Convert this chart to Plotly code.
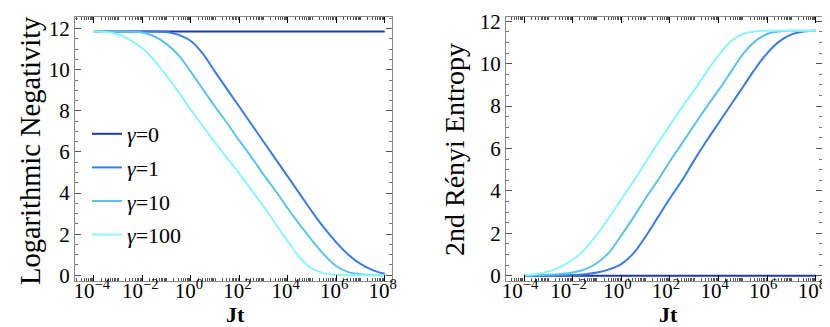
import plotly.graph_objects as go

# ---------------- data ----------------
gamma_labels = ["<i>γ</i>=0", "<i>γ</i>=1", "<i>γ</i>=10", "<i>γ</i>=100"]
colors = ["#1c3ba2", "#3b7ddb", "#5bc3e8", "#8ef4fb"]

# Jt sample points, half a decade apart (1e-4 ... 1e8)
jt = [1e-4, 3.16e-4, 1e-3, 3.16e-3, 1e-2, 3.16e-2, 1e-1, 3.16e-1, 1e0, 3.16e0,
      1e1, 3.16e1, 1e2, 3.16e2, 1e3, 3.16e3, 1e4, 3.16e4, 1e5, 3.16e5,
      1e6, 3.16e6, 1e7, 3.16e7, 1e8]

# Left panel: Logarithmic Negativity
ln_g0 = [11.87] * 25
ln_g1 = [11.87, 11.87, 11.87, 11.87, 11.87, 11.87, 11.84, 11.7, 11.4, 10.78,
         9.9, 9.05, 8.2, 7.35, 6.5, 5.65, 4.8, 3.95, 3.1, 2.3,
         1.6, 1.0, 0.55, 0.25, 0.07]
ln_g10 = [11.87, 11.87, 11.86, 11.85, 11.82, 11.62, 11.25, 10.7, 9.9, 9.05,
          8.2, 7.4, 6.55, 5.75, 4.9, 4.1, 3.25, 2.45, 1.7, 1.0,
          0.45, 0.15, 0.05, 0.01, 0.0]
ln_g100 = [11.87, 11.84, 11.72, 11.45, 11.05, 10.45, 9.7, 8.9, 8.05, 7.25,
           6.45, 5.7, 4.95, 4.15, 3.35, 2.5, 1.65, 0.85, 0.32, 0.09,
           0.02, 0.0, 0.0, 0.0, 0.0]

# Right panel: 2nd Renyi Entropy
re_g0 = [0.0] * 25
re_g1 = [0.0, 0.0, 0.01, 0.02, 0.03, 0.07, 0.15, 0.3, 0.55, 1.05,
         1.85, 2.75, 3.65, 4.5, 5.45, 6.35, 7.2, 8.05, 8.9, 9.75,
         10.5, 11.05, 11.38, 11.52, 11.55]
re_g10 = [0.01, 0.02, 0.04, 0.08, 0.15, 0.3, 0.6, 1.1, 1.9, 2.75,
          3.65, 4.5, 5.4, 6.25, 7.1, 7.95, 8.75, 9.6, 10.45, 11.05,
          11.4, 11.52, 11.55, 11.55, 11.55]
re_g100 = [0.02, 0.08, 0.2, 0.42, 0.75, 1.25, 1.95, 2.75, 3.6, 4.45,
           5.35, 6.25, 7.1, 7.95, 8.75, 9.6, 10.4, 11.05, 11.4, 11.52,
           11.55, 11.55, 11.55, 11.55, 11.55]

x_tickvals = [1e-4, 1e-2, 1e0, 1e2, 1e4, 1e6, 1e8]
x_ticktext = ["10<sup>−4</sup>", "10<sup>−2</sup>", "10<sup>0</sup>", "10<sup>2</sup>",
              "10<sup>4</sup>", "10<sup>6</sup>", "10<sup>8</sup>"]
y_tickvals = [0, 2, 4, 6, 8, 10, 12]

left_title = "Logarithmic Negativity"
right_title = "2nd Rényi Entropy"
x_title = "Jt"

# ---------------- figure ----------------
FONT = "Liberation Serif"
fig = go.Figure()

left_series = [ln_g0, ln_g1, ln_g10, ln_g100]
right_series = [re_g0, re_g1, re_g10, re_g100]

for i, ys in enumerate(left_series):
    fig.add_trace(go.Scatter(x=jt, y=ys, mode="lines", name=gamma_labels[i],
                             line=dict(color=colors[i], width=2, shape="spline", smoothing=1.0),
                             xaxis="x", yaxis="y", legendgroup=str(i), showlegend=True))
for i, ys in enumerate(right_series):
    fig.add_trace(go.Scatter(x=jt, y=ys, mode="lines", name=gamma_labels[i],
                             line=dict(color=colors[i], width=2, shape="spline", smoothing=1.0),
                             xaxis="x2", yaxis="y2", legendgroup=str(i), showlegend=False))

W, H = 830, 327
frame = "#8a8a8a"
tickfont = dict(family=FONT, size=21, color="black")

def xaxis(domain, anchor, rng, shift):
    return dict(domain=domain, anchor=anchor, type="log", range=rng,
                tickvals=x_tickvals, ticktext=x_ticktext, tickfont=tickfont,
                ticks="inside", ticklen=6, tickcolor="black", tickwidth=1,
                ticklabelstandoff=-9, ticklabelshift=shift,
                minor=dict(ticks="inside", ticklen=3, tickcolor="#555", dtick="D1", showgrid=False),
                showline=True, linecolor=frame, linewidth=1, mirror="allticks",
                showgrid=False, zeroline=False, automargin=False)

def yaxis(domain, anchor, rng):
    return dict(domain=domain, anchor=anchor, range=rng,
                tickvals=y_tickvals, tickfont=tickfont,
                ticks="inside", ticklen=6, tickcolor="#555", tickwidth=1,
                minor=dict(ticks="inside", ticklen=3, tickcolor="#777", dtick=0.5, showgrid=False),
                showline=True, linecolor=frame, linewidth=1, mirror="allticks",
                showgrid=False, zeroline=False, automargin=False)

ydom = [(H - 273) / H, (H - 9) / H]
fig.update_layout(
    width=W, height=H,
    margin=dict(l=0, r=0, t=0, b=0),
    font=dict(family=FONT, color="black"),
    paper_bgcolor="white", plot_bgcolor="rgba(0,0,0,0)",
    xaxis=xaxis([67 / W, 384 / W], "y", [-4.78, 8.3], -2),
    yaxis=yaxis(ydom, "x", [-0.28, 12.57]),
    xaxis2=xaxis([498 / W, 814 / W], "y2", [-4.74, 8.25], -4),
    yaxis2=yaxis(ydom, "x2", [-0.25, 12.2]),
    showlegend=True,
    legend=dict(x=79 / W, y=1 - 105 / H, xanchor="left", yanchor="top",
                bgcolor="rgba(0,0,0,0)", font=dict(family=FONT, size=22, color="black"),
                tracegroupgap=2, itemwidth=30),
    annotations=[
        dict(text=left_title, x=22 / W, y=1 - 143 / H, xref="paper", yref="paper",
             textangle=-90, showarrow=False, font=dict(family=FONT, size=28.5, color="black"),
             xanchor="center", yanchor="middle"),
        dict(text=right_title, x=446 / W, y=1 - 142 / H, xref="paper", yref="paper",
             textangle=-90, showarrow=False, font=dict(family=FONT, size=28, color="black"),
             xanchor="center", yanchor="middle"),
        dict(text="<b>" + x_title + "</b>", x=227 / W, y=0, xref="paper", yref="paper",
             showarrow=False, font=dict(family=FONT, size=22, color="black"),
             xanchor="center", yanchor="bottom", yshift=7, borderpad=0),
        dict(text="<b>" + x_title + "</b>", x=660 / W, y=0, xref="paper", yref="paper",
             showarrow=False, font=dict(family=FONT, size=22, color="black"),
             xanchor="center", yanchor="bottom", yshift=7, borderpad=0),
    ],
)

fig.write_html("out.html")
